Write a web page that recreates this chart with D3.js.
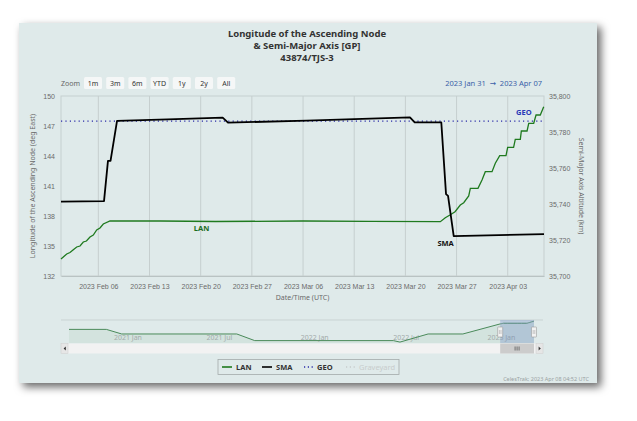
<!DOCTYPE html>
<html>
<head>
<meta charset="utf-8">
<script src="https://cdn.jsdelivr.net/npm/d3@7"></script>
<style>
  html, body { margin: 0; padding: 0; background: #fff; }
  svg { display: block; font-family: "Noto Sans", "DejaVu Sans", sans-serif; }
</style>
</head>
<body>
<div id="chart"></div>
<script>
// ---- data ----
const titleLines = ['Longitude of the Ascending Node', '& Semi-Major Axis [GP]', '43874/TJS-3'];
const zoomButtons = ['1m', '3m', '6m', 'YTD', '1y', '2y', 'All'];
const rangeText = '2023 Jan 31  \u2192  2023 Apr 07';
const xDomain = ['2023-01-31T21:30Z', '2023-04-07T23:00Z'];
const lanDomain = [132, 150];
const lanTicks = [132, 135, 138, 141, 144, 147, 150];
const smaDomain = [35700, 35800];
const smaTicks = [35700, 35720, 35740, 35760, 35780, 35800];
const geoAltitude = 35786;

// LAN (deg East), left axis
const lanData = [
  ['2023-01-31T21:30', 133.7], ['2023-02-01T16:14', 134.2], ['2023-02-02T03:00', 134.35],
  ['2023-02-02T12:53', 134.6], ['2023-02-03T01:00', 134.9], ['2023-02-03T12:00', 135.0],
  ['2023-02-03T22:42', 135.4], ['2023-02-04T09:00', 135.5], ['2023-02-04T20:40', 135.9],
  ['2023-02-05T07:30', 136.1], ['2023-02-05T18:40', 136.6], ['2023-02-06T05:30', 136.8],
  ['2023-02-06T16:20', 137.2], ['2023-02-07T14:20', 137.5], ['2023-02-14T12:00', 137.5],
  ['2023-02-22T00:00', 137.45], ['2023-03-06T00:00', 137.5], ['2023-03-15T00:00', 137.47],
  ['2023-03-24T18:43', 137.43], ['2023-03-25T11:00', 137.83], ['2023-03-26T02:24', 138.1],
  ['2023-03-26T19:00', 138.43], ['2023-03-27T12:15', 139.1], ['2023-03-27T23:30', 139.33],
  ['2023-03-28T15:50', 140.0], ['2023-03-28T21:10', 140.77], ['2023-03-29T22:20', 140.77],
  ['2023-03-30T11:30', 141.6], ['2023-03-30T22:20', 142.43], ['2023-03-31T20:24', 142.43],
  ['2023-04-01T07:12', 143.27], ['2023-04-01T21:36', 144.03], ['2023-04-02T18:15', 144.03],
  ['2023-04-02T23:45', 144.87], ['2023-04-03T19:12', 144.87], ['2023-04-04T00:43', 145.67],
  ['2023-04-04T17:16', 145.67], ['2023-04-04T20:38', 146.5], ['2023-04-05T15:22', 146.5],
  ['2023-04-05T20:53', 147.27], ['2023-04-06T13:12', 147.27], ['2023-04-06T20:53', 148.1],
  ['2023-04-07T10:48', 148.1], ['2023-04-07T22:05', 148.93]
];

// SMA altitude (km), right axis
const smaData = [
  ['2023-01-31T21:30', 35741.3], ['2023-02-06T18:43', 35741.6], ['2023-02-07T07:40', 35764.0],
  ['2023-02-07T16:05', 35764.0], ['2023-02-08T13:26', 35786.2], ['2023-02-15T12:00', 35787.0],
  ['2023-02-23T00:15', 35788.0], ['2023-02-23T17:45', 35785.2], ['2023-03-06T12:00', 35786.3],
  ['2023-03-20T15:00', 35788.1], ['2023-03-21T06:30', 35785.3], ['2023-03-24T21:50', 35785.4],
  ['2023-03-25T13:25', 35745.5], ['2023-03-25T20:00', 35744.5], ['2023-03-26T14:40', 35722.2],
  ['2023-04-07T23:00', 35723.3]
];

// navigator: longer LAN history
const navDomain = ['2020-10-11T00:00Z', '2023-04-08T00:00Z'];
const navLanDomain = [30, 155];
const navLanHistory = [
  ['2020-10-11T00:00', 104], ['2020-12-23T00:00', 104], ['2021-01-22T00:00', 79],
  ['2021-09-04T00:00', 79], ['2021-10-09T00:00', 43], ['2022-07-07T00:00', 43],
  ['2022-07-20T00:00', 35], ['2022-09-13T00:00', 79], ['2022-11-20T00:00', 79]
];
const navTicks = ['2021-01-01', '2021-07-01', '2022-01-01', '2022-07-01', '2023-01-01'];

const legendItems = [
  { name: 'LAN', color: '#1f7a1f', dash: null, on: true },
  { name: 'SMA', color: '#000000', dash: null, on: true },
  { name: 'GEO', color: '#2a2aa8', dash: '1.2,2.6', on: true },
  { name: 'Graveyard', color: '#c8cccc', dash: '1.2,2.6', on: false }
];
const credits = 'CelesTrak; 2023 Apr 08 04:52 UTC';

// ---- drawing ----
const W = 637, H = 421;
const plot = { left: 61, right: 544, top: 96, bottom: 276 };
const nav = { left: 69, right: 534, top: 320, bottom: 343 };
const panelBg = '#dfeaea';
const gridColor = '#c6cfcf';
const labelColor = '#6b6b6b';
const lanColor = '#1f7a1f';

const parseUtc = s => new Date(s.endsWith('Z') ? s : s + 'Z');

const svg = d3.select('#chart').append('svg')
  .attr('width', W)
  .attr('height', H);

svg.append('rect').attr('width', W).attr('height', H).attr('fill', '#fff');

const defs = svg.append('defs');
const shadow = defs.append('filter').attr('id', 'shadow')
  .attr('x', '-10%').attr('y', '-10%').attr('width', '125%').attr('height', '130%');
shadow.append('feDropShadow')
  .attr('dx', 4).attr('dy', 4).attr('stdDeviation', 4)
  .attr('flood-color', '#000').attr('flood-opacity', 0.6);

svg.append('rect')
  .attr('x', 19).attr('y', 23).attr('width', 578).attr('height', 360)
  .attr('fill', panelBg)
  .attr('filter', 'url(#shadow)');

// title
svg.append('g').selectAll('text')
  .data(titleLines)
  .join('text')
  .attr('x', 307)
  .attr('y', (d, i) => 36.5 + i * 12)
  .attr('text-anchor', 'middle')
  .style('font-size', '9.5px')
  .style('font-weight', 'bold')
  .style('fill', '#333')
  .text(d => d);

// range selector
svg.append('text')
  .attr('x', 61).attr('y', 85.5)
  .style('font-size', '7px').style('fill', '#666')
  .text('Zoom');

const btn = svg.append('g').selectAll('g')
  .data(zoomButtons)
  .join('g')
  .attr('transform', (d, i) => `translate(${84 + i * 22.2},77)`);
btn.append('rect')
  .attr('width', 18).attr('height', 12).attr('rx', 1.5)
  .attr('fill', '#f5f7f7');
btn.append('text')
  .attr('x', 9).attr('y', 8.6)
  .attr('text-anchor', 'middle')
  .style('font-size', '7px').style('fill', '#333')
  .text(d => d);

svg.append('text')
  .attr('x', 542).attr('y', 85.5)
  .attr('text-anchor', 'end')
  .style('font-size', '7.5px').style('fill', '#3a5fa8')
  .style('white-space', 'pre')
  .text(rangeText);

// scales
const x = d3.scaleUtc().domain(xDomain.map(parseUtc)).range([plot.left, plot.right]);
const yL = d3.scaleLinear().domain(lanDomain).range([plot.bottom, plot.top]);
const yR = d3.scaleLinear().domain(smaDomain).range([plot.bottom, plot.top]);

// plot border
svg.append('rect')
  .attr('x', plot.left).attr('y', plot.top)
  .attr('width', plot.right - plot.left).attr('height', plot.bottom - plot.top)
  .attr('fill', 'none').attr('stroke', gridColor).attr('stroke-width', 1);

const xTicks = x.ticks(d3.utcMonday.every(1));

// vertical gridlines
svg.append('g').selectAll('line')
  .data(xTicks)
  .join('line')
  .attr('x1', d => x(d)).attr('x2', d => x(d))
  .attr('y1', plot.top).attr('y2', plot.bottom)
  .attr('stroke', gridColor).attr('stroke-width', 1);

// x axis
const xAxis = svg.append('g')
  .attr('transform', `translate(0,${plot.bottom})`)
  .call(d3.axisBottom(x).tickValues(xTicks).tickFormat(d3.utcFormat('%Y %b %d')).tickSize(0).tickPadding(8));
xAxis.select('.domain').attr('stroke', '#b9c3c3');
xAxis.selectAll('text').style('font-size', '7px').style('fill', labelColor).style('font-family', 'inherit');

// left axis
const yLAxis = svg.append('g')
  .attr('transform', `translate(${plot.left},0)`)
  .call(d3.axisLeft(yL).tickValues(lanTicks).tickSize(0).tickPadding(6));
yLAxis.select('.domain').remove();
yLAxis.selectAll('text').style('font-size', '7px').style('fill', labelColor).style('font-family', 'inherit');

// right axis
const yRAxis = svg.append('g')
  .attr('transform', `translate(${plot.right},0)`)
  .call(d3.axisRight(yR).tickValues(smaTicks).tickFormat(d3.format(',')).tickSize(0).tickPadding(5));
yRAxis.select('.domain').remove();
yRAxis.selectAll('text').style('font-size', '7px').style('fill', labelColor).style('font-family', 'inherit');

// axis titles
svg.append('text')
  .attr('transform', `translate(35,${(plot.top + plot.bottom) / 2}) rotate(-90)`)
  .attr('text-anchor', 'middle')
  .style('font-size', '7px').style('fill', labelColor)
  .text('Longitude of the Ascending Node (deg East)');

svg.append('text')
  .attr('transform', `translate(579,${(plot.top + plot.bottom) / 2}) rotate(90)`)
  .attr('text-anchor', 'middle')
  .style('font-size', '7px').style('fill', labelColor)
  .text('Semi-Major Axis Altitude (km)');

svg.append('text')
  .attr('x', (plot.left + plot.right) / 2).attr('y', 299.5)
  .attr('text-anchor', 'middle')
  .style('font-size', '7px').style('fill', labelColor)
  .text('Date/Time (UTC)');

// GEO reference line
svg.append('line')
  .attr('x1', plot.left).attr('x2', plot.right)
  .attr('y1', yR(geoAltitude)).attr('y2', yR(geoAltitude))
  .attr('stroke', '#2a2aa8').attr('stroke-width', 1.3)
  .attr('stroke-dasharray', '1.2,3.2');

const lanLine = d3.line()
  .x(d => x(parseUtc(d[0])))
  .y(d => yL(d[1]));

const smaLine = d3.line()
  .x(d => x(parseUtc(d[0])))
  .y(d => yR(d[1]));

svg.append('path')
  .datum(lanData)
  .attr('fill', 'none')
  .attr('stroke', lanColor)
  .attr('stroke-width', 1.3)
  .attr('d', lanLine);

svg.append('path')
  .datum(smaData)
  .attr('fill', 'none')
  .attr('stroke', '#000')
  .attr('stroke-width', 1.8)
  .attr('stroke-linejoin', 'round')
  .attr('d', smaLine);

// series labels
const seriesLabels = [
  { text: 'LAN', color: '#1d6e1d', at: ['2023-02-20T03:00', 137.5], dy: 9.5 },
  { text: 'SMA', color: '#111', at: ['2023-03-25T12:00', 35722.2], dy: 9.5 },
  { text: 'GEO', color: '#2a3ab8', at: ['2023-04-05T05:00', geoAltitude], dy: -6 }
];
svg.append('g').selectAll('text')
  .data(seriesLabels)
  .join('text')
  .attr('x', d => x(parseUtc(d.at[0])))
  .attr('y', d => (d.text === 'LAN' ? yL(d.at[1]) : yR(d.at[1])) + d.dy)
  .attr('text-anchor', 'middle')
  .style('font-size', '7.5px')
  .style('font-weight', 'bold')
  .style('fill', d => d.color)
  .text(d => d.text);

// ---- navigator ----
const nx = d3.scaleUtc().domain(navDomain.map(parseUtc)).range([nav.left, nav.right]);
const ny = d3.scaleLinear().domain(navLanDomain).range([nav.bottom, nav.top]);
const navData = navLanHistory.concat(lanData);

svg.append('line')
  .attr('x1', 61).attr('x2', 543)
  .attr('y1', nav.top).attr('y2', nav.top)
  .attr('stroke', '#c9d3d3').attr('stroke-width', 1);

svg.append('path')
  .datum(navData)
  .attr('fill', lanColor).attr('fill-opacity', 0.06)
  .attr('d', d3.area().x(d => nx(parseUtc(d[0]))).y0(nav.bottom).y1(d => ny(d[1])));

svg.append('g').selectAll('text')
  .data(navTicks)
  .join('text')
  .attr('x', d => nx(parseUtc(d)) + 3)
  .attr('y', nav.bottom - 3)
  .style('font-size', '7px').style('fill', '#a3abab')
  .text(d => d3.utcFormat('%Y %b')(parseUtc(d)));

svg.append('path')
  .datum(navData)
  .attr('fill', 'none')
  .attr('stroke', '#4a8a5a').attr('stroke-width', 1)
  .attr('d', d3.line().x(d => nx(parseUtc(d[0]))).y(d => ny(d[1])));

const maskX0 = nx(parseUtc(xDomain[0]));
const maskX1 = nx(parseUtc(xDomain[1]));
svg.append('rect')
  .attr('x', maskX0).attr('y', nav.top)
  .attr('width', maskX1 - maskX0).attr('height', nav.bottom - nav.top)
  .attr('fill', 'rgba(102,133,194,0.3)');

// handles
const handles = svg.append('g').selectAll('g')
  .data([maskX0, maskX1])
  .join('g')
  .attr('transform', d => `translate(${d},327)`);
handles.append('rect')
  .attr('x', -2.5).attr('y', 0).attr('width', 5).attr('height', 10).attr('rx', 0.5)
  .attr('fill', '#f2f2f2').attr('stroke', '#999').attr('stroke-width', 0.6);
handles.append('path')
  .attr('d', 'M-0.8,3V7M0.8,3V7')
  .attr('stroke', '#999').attr('stroke-width', 0.5);

// scrollbar
svg.append('rect')
  .attr('x', 61).attr('y', 343.5).attr('width', 482).attr('height', 10)
  .attr('fill', '#f2f2f2');
svg.append('rect')
  .attr('x', maskX0).attr('y', 343.5).attr('width', maskX1 - maskX0).attr('height', 10)
  .attr('fill', '#cccccc');
svg.append('path')
  .attr('d', () => {
    const cx = (maskX0 + maskX1) / 2;
    return `M${cx - 2},346.5V350.5M${cx},346.5V350.5M${cx + 2},346.5V350.5`;
  })
  .attr('stroke', '#333').attr('stroke-width', 0.6);
[[61, 'M65.8,346.5L63.6,348.5L65.8,350.5Z'], [536, 'M538.6,346.5L540.8,348.5L538.6,350.5Z']].forEach(([bx, arrow]) => {
  svg.append('rect')
    .attr('x', bx).attr('y', 343.5).attr('width', 7).attr('height', 10)
    .attr('fill', '#e6e6e6').attr('stroke', '#cccccc').attr('stroke-width', 0.5);
  svg.append('path').attr('d', arrow).attr('fill', '#333');
});

// ---- legend ----
const legend = svg.append('g');
legend.append('rect')
  .attr('x', 218).attr('y', 359.5).attr('width', 181).attr('height', 15)
  .attr('fill', 'none').attr('stroke', '#a3abab').attr('stroke-width', 0.8);

const legendX = [222, 262, 304, 346];
const li = legend.selectAll('g.item')
  .data(legendItems)
  .join('g')
  .attr('class', 'item')
  .attr('transform', (d, i) => `translate(${legendX[i]},367)`);
li.append('line')
  .attr('x1', 0).attr('x2', 10)
  .attr('stroke', d => d.color)
  .attr('stroke-width', d => d.dash ? 1.3 : 1.6)
  .attr('stroke-dasharray', d => d.dash);
li.append('text')
  .attr('x', d => d.dash ? 13 : 14).attr('y', 2.7)
  .style('font-size', '7.5px')
  .style('font-weight', d => d.on ? 'bold' : 'normal')
  .style('fill', d => d.on ? '#333' : '#c8cccc')
  .text(d => d.name);

svg.append('text')
  .attr('x', 589).attr('y', 380.5)
  .attr('text-anchor', 'end')
  .style('font-size', '5.5px').style('fill', '#9aa2a2')
  .text(credits);
</script>
</body>
</html>
